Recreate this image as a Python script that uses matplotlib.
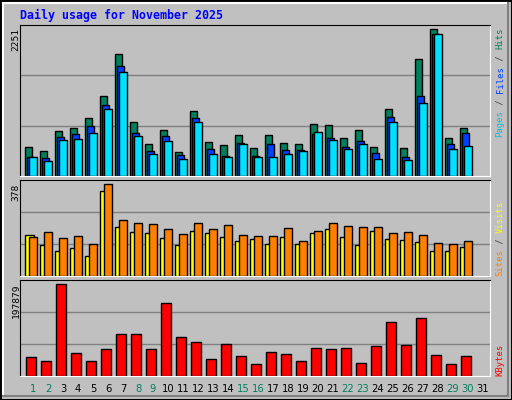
import matplotlib
matplotlib.use("Agg")
import matplotlib.pyplot as plt
from matplotlib.lines import Line2D

# values (November 2025, 30 days)
days = list(range(1, 31))
hits = [436, 377, 674, 719, 867, 1193, 1813, 806, 478, 687, 361, 970, 509, 465, 613, 420, 613, 494, 479, 776, 762, 569, 687, 435, 1000, 420, 1740, 2187, 569, 719]
files = [287, 272, 584, 629, 747, 1060, 1635, 643, 376, 598, 317, 866, 406, 302, 494, 302, 480, 391, 391, 628, 569, 435, 524, 346, 880, 287, 1193, 2113, 480, 643]
pages = [287, 228, 539, 554, 643, 1000, 1543, 598, 331, 524, 257, 806, 331, 287, 480, 287, 287, 331, 376, 658, 539, 405, 480, 257, 806, 242, 1088, 2113, 405, 450]
sites = [161, 122, 98, 110, 79, 335, 193, 173, 169, 150, 122, 177, 169, 153, 138, 146, 126, 153, 126, 169, 185, 153, 122, 177, 146, 142, 134, 98, 98, 114]
visits = [153, 173, 150, 158, 126, 362, 220, 209, 205, 185, 165, 209, 185, 201, 161, 158, 158, 189, 138, 177, 209, 197, 193, 193, 169, 173, 161, 130, 126, 138]
kbytes = [38060, 29760, 189500, 46360, 29760, 54660, 85790, 85790, 54660, 150070, 79560, 69180, 33910, 65030, 40140, 23530, 48430, 44280, 29760, 56740, 54660, 56740, 25600, 60880, 110700, 62950, 119000, 42210, 23530, 40140]
day_labels = [str(d) for d in range(1, 32)]
weekend = {1, 2, 8, 9, 15, 16, 22, 23, 29, 30}

BG = "#C0C0C0"
W, H = 512, 400
fig = plt.figure(figsize=(W / 100, H / 100), dpi=100, facecolor=BG)


def box(l, t, r, b):
    return [l / W, 1 - b / H, (r - l) / W, (b - t) / H]


def px_line(x0, y0, x1, y1, c, lw=1):
    fig.add_artist(Line2D([x0 / W, x1 / W], [1 - y0 / H, 1 - y1 / H],
                          transform=fig.transFigure, color=c, lw=lw))


# bevelled frame
px_line(0.5, 0.5, 511.5, 0.5, "black", 1.5)
px_line(0.5, 0.5, 0.5, 399.5, "black", 1.5)
px_line(511.5, 0.5, 511.5, 399.5, "black", 1.5)
px_line(0.5, 399.5, 511.5, 399.5, "black", 1.5)
px_line(3, 3, 508, 3, "white", 1.5)
px_line(3, 3, 3, 396, "white", 1.5)
px_line(508, 3, 508, 396, "#808080", 1.5)
px_line(3, 396, 508, 396, "#808080", 1.5)

mono = "DejaVu Sans Mono"
fig.text(20 / W, 1 - 15 / H, "Daily usage for November 2025", color="#0000FF",
         fontsize=8.4, fontweight="bold", family=mono, va="center")

XL, XR = 0.13, 31.47


def panel(t, b, ymax, label):
    ax = fig.add_axes(box(20, t, 490, b))
    ax.set_facecolor(BG)
    ax.set_xlim(XL, XR)
    ax.set_ylim(0, ymax)
    for y in (ymax / 3, 2 * ymax / 3):
        ax.axhline(y, color="#808080", lw=1, zorder=0)
    ax.set_xticks([])
    ax.set_yticks([])
    for s in ax.spines.values():
        s.set_color("black")
    ax.spines["right"].set_color("white")
    ax.spines["bottom"].set_color("white")
    fig.text(16 / W, 1 - (t + 3) / H, label, rotation=90, fontsize=6.8,
             family=mono, ha="center", va="top")
    return ax


def side_label(parts, bottom_px):
    y = bottom_px
    for txt, col in parts:
        fig.text(500 / W, 1 - y / H, txt, rotation=90, color=col, fontsize=6.4,
                 family=mono, ha="center", va="bottom")
        y -= 5.5 * len(txt)


kw = dict(edgecolor="black", linewidth=1, align="edge")

ax1 = panel(25, 176, 2251, "2251")
ax1.bar([d - 0.51 for d in days], hits, width=0.47, color="#00805C", **kw)
ax1.bar([d - 0.38 for d in days], files, width=0.47, color="#0040FF", **kw)
ax1.bar([d - 0.25 for d in days], pages, width=0.5, color="#00E0FF", **kw)
side_label([("Pages", "#00C0E0"), (" / ", "#404040"), ("Files", "#0040FF"),
            (" / ", "#404040"), ("Hits", "#00805C")], 137)

ax2 = panel(180.3, 276.3, 378, "378")
ax2.bar([d - 0.51 for d in days], sites, width=0.55, color="#FFFF00", **kw)
ax2.bar([d - 0.25 for d in days], visits, width=0.5, color="#FF8000", **kw)
side_label([("Sites", "#FF8000"), (" / ", "#404040"), ("Visits", "#FFFF00")], 276.5)

ax3 = panel(280.3, 375.7, 197879, "197879")
ax3.bar([d - 0.45 for d in days], kbytes, width=0.68, color="#FF0000", **kw)
side_label([("KBytes", "#FF0000")], 376.5)

for i, lab in enumerate(day_labels):
    d = i + 1
    xf = (20 + (d - XL) / (XR - XL) * 470) / W
    fig.text(xf, 1 - 389 / H, lab, ha="center", va="center", fontsize=7.2,
             family="DejaVu Sans", color="#00805C" if d in weekend else "black")

fig.savefig("out.png", dpi=100, facecolor=BG)
